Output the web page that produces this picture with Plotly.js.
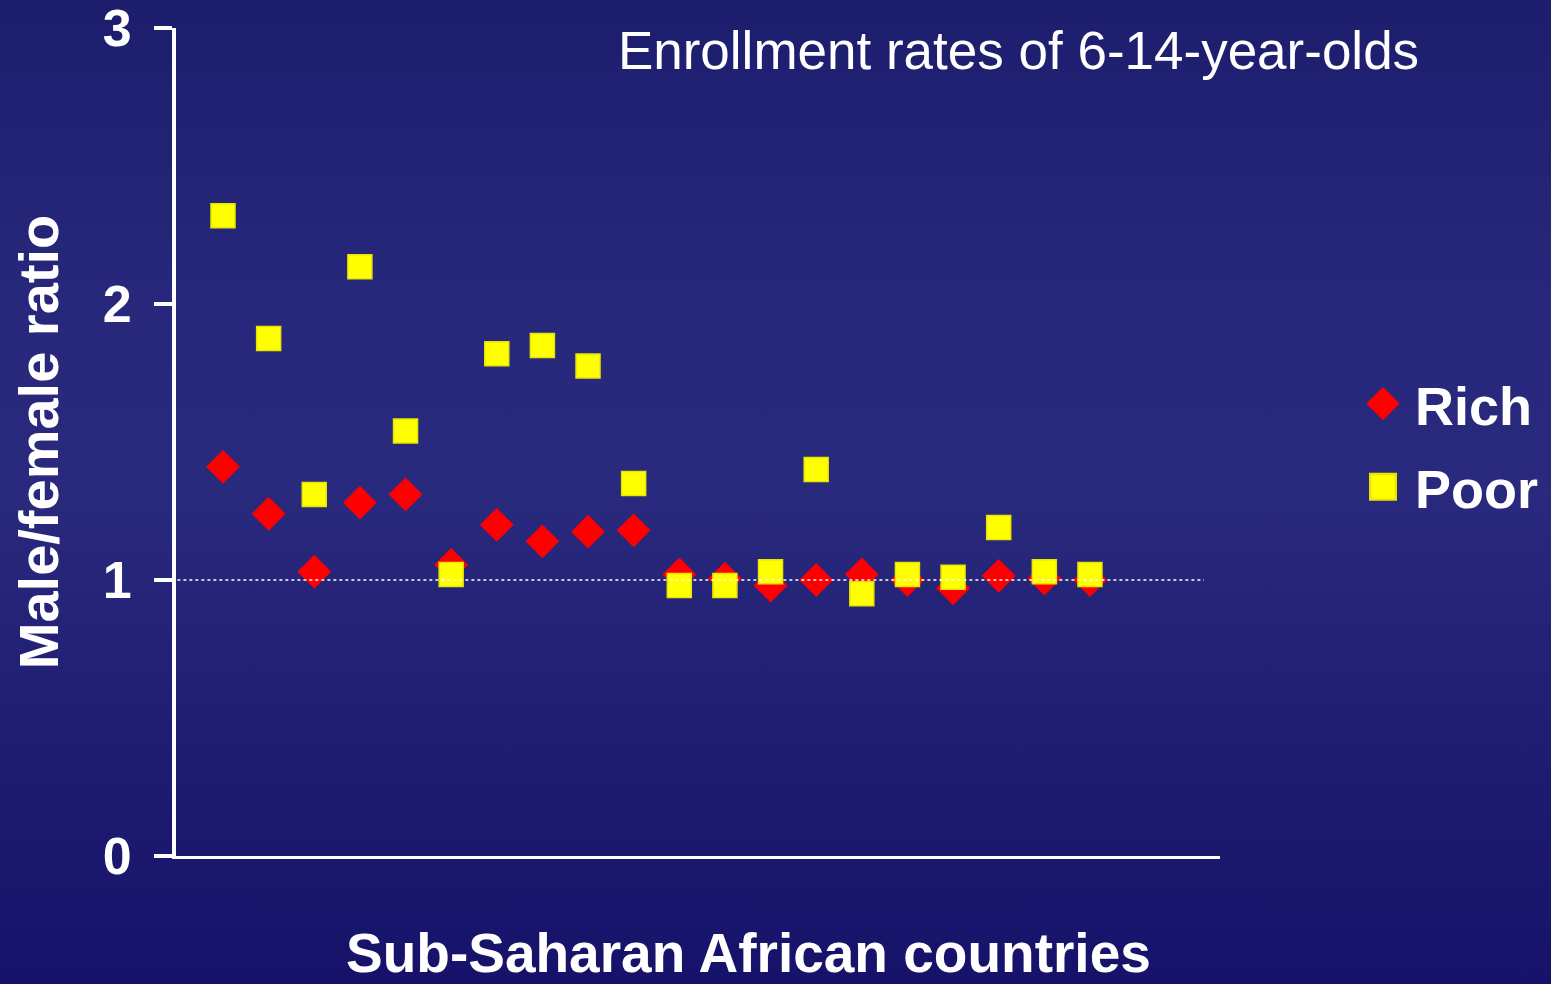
<!DOCTYPE html>
<html>
<head>
<meta charset="utf-8">
<script src="https://cdn.plot.ly/plotly-3.0.1.min.js"></script>
<style>
  html, body { margin: 0; padding: 0; }
  body {
    width: 1551px; height: 984px; overflow: hidden;
    background: linear-gradient(to bottom, #1d1d6e 0%, #27287b 30%, #29297d 50%, #1d1b70 80%, #16126a 100%);
  }
  #chart { width: 1551px; height: 984px; }
</style>
</head>
<body>
<div id="chart"></div>
<script>
// Country index (20 Sub-Saharan African countries, unlabeled)
const countryIndex = [1,2,3,4,5,6,7,8,9,10,11,12,13,14,15,16,17,18,19,20];
// Male/female enrollment ratio, richest households
const richRatio = [1.41,1.24,1.03,1.28,1.31,1.055,1.20,1.14,1.175,1.18,1.02,1.005,0.98,1.00,1.02,1.00,0.97,1.015,1.005,1.00];
// Male/female enrollment ratio, poorest households
const poorRatio = [2.32,1.875,1.31,2.135,1.54,1.02,1.82,1.85,1.775,1.35,0.98,0.98,1.03,1.40,0.95,1.02,1.01,1.19,1.03,1.02];
const seriesNames = ["Rich", "Poor"];
const yTickVals = [0, 1, 2, 3];
const yTickText = ["0", "1", "2", "3"];
const parityLevel = 1;

const FONT = "Arial, 'Liberation Sans', sans-serif";

const traces = [
  {
    x: countryIndex, y: richRatio, name: seriesNames[0],
    type: "scatter", mode: "markers", legendgroup: "g1",
    marker: { symbol: "diamond", size: 26, color: "#ff0000", line: { width: 0 } },
    hoverinfo: "y"
  },
  {
    x: countryIndex, y: poorRatio, name: seriesNames[1],
    type: "scatter", mode: "markers", legendgroup: "g2",
    marker: { symbol: "square", size: 24, color: "#ffff00", line: { width: 1.5, color: "#e6e600" } },
    hoverinfo: "y"
  }
];

const layout = {
  width: 1551, height: 984,
  paper_bgcolor: "rgba(0,0,0,0)",
  plot_bgcolor: "rgba(0,0,0,0)",
  margin: { l: 176, r: 331, t: 28, b: 128, pad: 0 },
  font: { family: FONT, color: "#ffffff" },
  showlegend: true,
  title: {
    text: "Enrollment rates of 6-14-year-olds",
    font: { family: FONT, size: 53, color: "#ffffff" },
    xref: "paper", x: 0.807, xanchor: "center",
    yref: "container", y: 0.949, yanchor: "middle"
  },
  xaxis: {
    range: [-0.03, 22.85],
    showgrid: false, zeroline: false,
    showline: true, linecolor: "#ffffff", linewidth: 3,
    ticks: "", showticklabels: false,
    fixedrange: true
  },
  yaxis: {
    range: [0, 3],
    tickvals: yTickVals, ticktext: yTickText,
    showgrid: false, zeroline: false,
    showline: true, linecolor: "#ffffff", linewidth: 4,
    ticks: "outside", ticklen: 18, tickwidth: 4, tickcolor: "#ffffff",
    ticklabelstandoff: 12,
    ticklabeloverflow: "allow",
    tickfont: { family: FONT, size: 52, color: "#ffffff", weight: "bold" },
    title: {
      text: "Male/female ratio",
      font: { family: FONT, size: 56, color: "#ffffff", weight: "bold" },
      standoff: 27
    },
    fixedrange: true
  },
  legend: {
    xref: "container", yref: "container",
    x: 1360 / 1551, xanchor: "left",
    y: 1 - 362 / 984, yanchor: "top",
    font: { family: FONT, size: 54, color: "#ffffff", weight: "bold" },
    bgcolor: "rgba(0,0,0,0)",
    tracegroupgap: 10,
    itemwidth: 45
  },
  shapes: [
    {
      type: "line", xref: "x", yref: "y",
      x0: 0, x1: 22.5, y0: parityLevel, y1: parityLevel,
      line: { color: "#ffffff", width: 1.5, dash: "dot" },
      layer: "above"
    }
  ],
  annotations: [
    {
      text: "Sub-Saharan African countries",
      xref: "paper", yref: "paper",
      x: 0.548, y: (856 - 953) / 828,
      xanchor: "center", yanchor: "middle",
      showarrow: false,
      font: { family: FONT, size: 55, color: "#ffffff", weight: "bold" }
    }
  ]
};

Plotly.newPlot("chart", traces, layout, { displayModeBar: false, responsive: false }).then(function (gd) {
  // Enlarge legend symbols to match the plotted marker size (Plotly caps them at 16px)
  try {
    gd.querySelectorAll(".legend .legendpoints path.scatterpts").forEach(function (p) {
      p.setAttribute("transform", "translate(23,0) scale(1.6)");
    });
  } catch (e) { /* leave default legend symbols */ }
});
</script>
</body>
</html>
